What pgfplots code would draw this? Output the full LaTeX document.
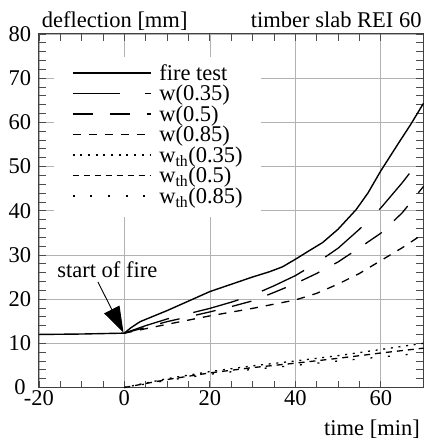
\documentclass[border=0pt]{standalone}
\usepackage{fontspec}
\setmainfont{Liberation Serif}
\usepackage{pgfplots}
\pgfplotsset{compat=1.18}
\usetikzlibrary{arrows.meta}

\pgfplotstableread{
x y
-20 12.0
-10 12.1
0 12.3
1.5 13.5
3.7 14.9
10 17.4
20 21.7
30 25.0
34 26.2
37 27.3
40 29.0
43 30.8
46.4 32.8
50 35.8
54.2 40.2
57 44.0
60 49.0
64.3 55.5
67 59.5
70 64.3
}\firetest

\pgfplotstableread{
x y
0 12.3
5 14.0
10 15.5
15 16.7
20 17.9
25 19.3
30 20.9
35 23.0
40 25.3
45 28.2
50 31.5
55 35.8
60 40.6
65 46.3
70 52.5
}\wa

\pgfplotstableread{
x y
0 12.3
5 13.6
10 14.9
15 16.0
20 17.1
25 18.3
30 19.6
35 21.5
40 23.5
45 25.8
50 28.4
55 31.6
60 34.9
65 39.5
70 45.5
}\wb

\pgfplotstableread{
x y
0 12.3
10 14.3
20 16.2
30 17.9
40 19.8
45 21.3
50 23.4
55 25.8
60 28.7
65 31.6
70 34.8
}\wc

\pgfplotstableread{
x y
0 0
10 2.0
20 3.6
30 4.9
40 6.0
50 7.2
60 8.6
70 10.0
}\wtha

\pgfplotstableread{
x y
0 0
10 1.8
20 3.3
30 4.5
40 5.5
50 6.6
60 7.8
70 8.9
}\wthb

\pgfplotstableread{
x y
0 0
10 1.6
20 3.0
30 4.1
40 5.0
50 6.0
60 6.9
70 7.8
}\wthc

\begin{document}
\begin{tikzpicture}[font=\fontsize{22.5bp}{26bp}\selectfont]
\begin{axis}[scale only axis, width=384.6bp, height=353.6bp,
  clip=false,
  xmin=-20, xmax=70, ymin=0, ymax=80,
  xtick={-20,0,20,40,60}, xticklabels={-20,0,20,40,60},
  ytick={0,10,...,80}, yticklabels={0,10,20,30,40,50,60,70,80},
  yticklabel style={anchor=center, xshift=-19bp},
  minor x tick num=3, minor y tick num=4,
  tick align=inside, tick pos=both,
  major tick length=7bp, minor tick length=7bp,
  grid=major, grid style={black!30, line width=0.6bp},
  axis line style={black!75, line width=0.9bp},
  every tick/.style={black!70, line width=0.7bp},
  legend cell align=left,
  legend image code/.code={\draw[#1] (0bp,2.5bp) -- (78bp,2.5bp); \path (86bp,2.5bp);},
  legend style={at={(axis cs:-16.54,74.77)}, anchor=north west, fill=white, draw=none,
    inner xsep=18bp, inner ysep=8bp, row sep=0bp,
    nodes={inner sep=0pt, text height=15bp, text depth=5.5bp}},
]
\addplot[black, line width=1.4bp] table {\firetest};
\addlegendentry{fire test}
\addplot[black, line width=1.3bp, dash pattern=on 47bp off 25bp] table {\wa};
\addlegendentry{w(0.35)}
\addplot[black, line width=1.3bp, dash pattern=on 20bp off 17bp] table {\wb};
\addlegendentry{w(0.5)}
\addplot[black, line width=1.3bp, dash pattern=on 8bp off 8bp] table {\wc};
\addlegendentry{w(0.85)}
\addplot[black, line width=1.3bp, dash pattern=on 2bp off 5.7bp] table {\wtha};
\addlegendentry{w\textsubscript{th}(0.35)}
\addplot[black, line width=1.3bp, dash pattern=on 6bp off 5bp] table {\wthb};
\addlegendentry{w\textsubscript{th}(0.5)}
\addplot[black, line width=1.3bp, dash pattern=on 2bp off 15.7bp] table {\wthc};
\addlegendentry{w\textsubscript{th}(0.85)}
\node[anchor=base] at (axis cs:-4,25) {start of fire};
\draw[-{Triangle[length=26bp,width=17bp]}, line width=0.9bp] (axis cs:-6.2,23.9) -- (axis cs:-0.2,12.4);
\node[anchor=base west, inner sep=0pt, xshift=2.8bp, yshift=6.6bp] at (rel axis cs:0,1) {deflection [mm]};
\node[anchor=base east, inner sep=0pt, xshift=-1.8bp, yshift=6.6bp] at (rel axis cs:1,1) {timber slab REI 60};
\node[anchor=base east, inner sep=0pt, xshift=-3.5bp, yshift=-47.5bp] at (rel axis cs:1,0) {time [min]};
\coordinate (bl) at (rel axis cs:0,0);
\end{axis}
\pgfresetboundingbox
\path ([shift={(-38.9bp,-56.5bp)}]bl) rectangle ([shift={(385.1bp,387.5bp)}]bl);
\end{tikzpicture}
\end{document}
